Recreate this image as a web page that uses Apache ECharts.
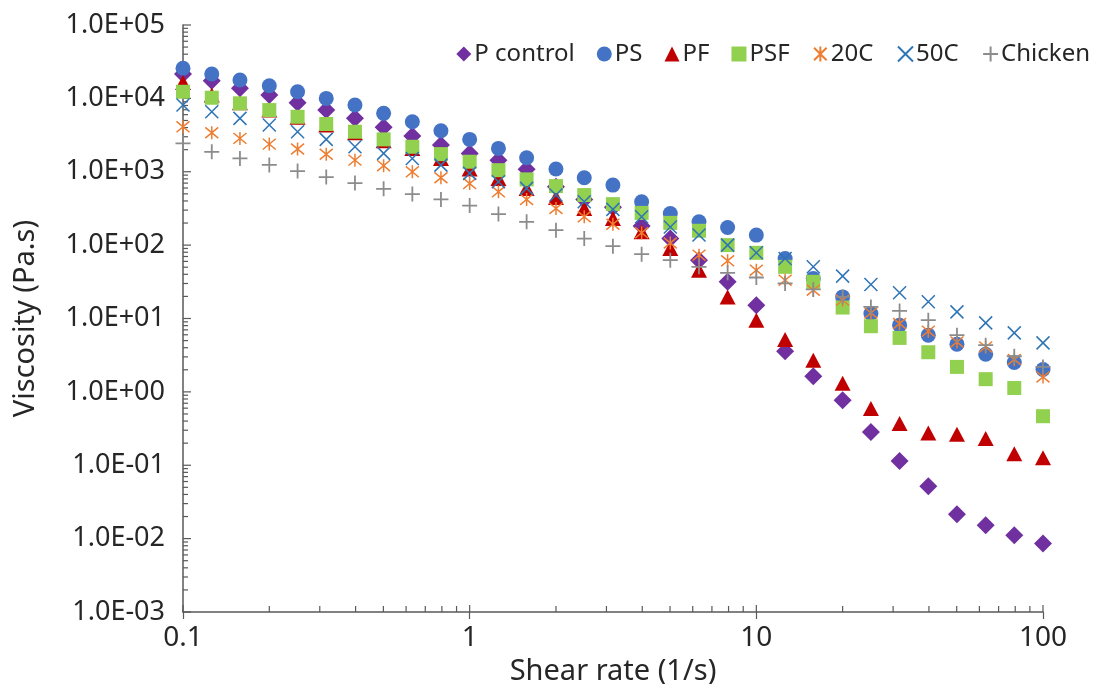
<!DOCTYPE html>
<html><head><meta charset="utf-8">
<script src="https://cdn.jsdelivr.net/npm/echarts@6/dist/echarts.min.js"></script>
<style>html,body{margin:0;padding:0;background:#fff}#c{width:1099px;height:684px}</style>
</head><body><div id="c"></div>
<script>
// Shear rate (1/s)
const shearRate = [0.1, 0.126, 0.158, 0.2, 0.251, 0.316, 0.398, 0.501, 0.631, 0.794,
  1, 1.26, 1.58, 2, 2.51, 3.16, 3.98, 5.01, 6.31, 7.94,
  10, 12.6, 15.8, 20, 25.1, 31.6, 39.8, 50.1, 63.1, 79.4, 100];
// Viscosity (Pa.s)
const pControl = [21480, 17390, 13700, 11100, 8710, 6930, 5340, 4030, 3060, 2310,
  1770, 1440, 1080, 624, 420, 327, 182, 123, 62.4, 31.6,
  15.2, 3.58, 1.63, 0.769, 0.284, 0.114, 0.0517, 0.0215, 0.0152, 0.0111, 0.00855];
const ps = [25690, 21480, 17780, 14870, 12310, 10000, 8110, 6250, 4800, 3620,
  2760, 2080, 1550, 1090, 828, 658, 389, 270, 208, 174,
  137, 65.8, 35.2, 19.7, 11.7, 8.11, 5.93, 4.47, 3.26, 2.51, 2.02];
const pf = [16500, 11100, 8710, 6930, 5510, 4330, 3400, 2640, 2080, 1520,
  1090, 811, 593, 447, 316, 231, 152, 90.2, 45.6, 19.7,
  9.49, 5.18, 2.70, 1.31, 0.593, 0.370, 0.275, 0.264, 0.231, 0.144, 0.127];
const psf = [12310, 10200, 8560, 6930, 5610, 4470, 3510, 2760, 2190, 1740,
  1370, 1050, 787, 637, 481, 362, 275, 201, 157, 100,
  78.5, 50.6, 31.6, 14.1, 7.85, 5.44, 3.47, 2.19, 1.49, 1.13, 0.466];
const c20 = [4100, 3400, 2850, 2380, 2040, 1730, 1440, 1210, 998, 828,
  690, 533, 420, 316, 243, 193, 147, 107, 73.0, 61.1,
  45.6, 33.3, 24.3, 17.8, 11.9, 8.55, 6.71, 4.80, 4.10, 2.76, 1.60];
const c50 = [8110, 6570, 5340, 4330, 3510, 2760, 2190, 1780, 1520, 1230,
  950, 730, 593, 481, 389, 307, 243, 177, 137, 100,
  78.5, 65.8, 50.6, 37.8, 29.1, 22.4, 16.9, 12.3, 8.71, 6.37, 4.65];
const chicken = [2440, 1870, 1520, 1240, 1020, 846, 700, 586, 496, 420,
  346, 265, 208, 160, 123, 96.8, 75.3, 62.4, 50.6, 41.9,
  36.2, 30.1, 24.9, 19.7, 14.4, 12.7, 9.49, 5.93, 4.33, 3.06, 2.19];

const seriesNames = ['P control', 'PS', 'PF', 'PSF', '20C', '50C', 'Chicken'];
const xTickLabels = ['0.1', '1', '10', '100'];
const yTickLabels = ['1.0E-03', '1.0E-02', '1.0E-01', '1.0E+00', '1.0E+01', '1.0E+02', '1.0E+03', '1.0E+04', '1.0E+05'];
const xMinorTicks = [0.2, 0.3, 0.4, 0.5, 0.6, 0.7, 0.8, 0.9, 2, 3, 4, 5, 6, 7, 8, 9, 20, 30, 40, 50, 60, 70, 80, 90];
const minorMult = [2, 3, 4, 5, 6, 7, 8, 9];
const yDecades = [0.001, 0.01, 0.1, 1, 10, 100, 1000, 10000];

const FONT = 'Noto Sans';
const AX = '#595959';
const TXT = '#262626';

const chart = echarts.init(document.getElementById('c'), null, {renderer: 'canvas'});

function pairs(ys) { return shearRate.map((x, i) => [x, ys[i]]); }

const yMinor = [];
yDecades.forEach(d => minorMult.forEach(m => yMinor.push([0.1, +(d * m).toPrecision(3)])));
const yMajor = yDecades.concat([100000]).map(v => [0.1, v]);

const ASTER = 'path://M0,0L10,10M10,0L0,10M5,-1L5,11';
const CROSS = 'path://M0,0L10,10M10,0L0,10';
const PLUS = 'path://M5,0L5,10M0,5L10,5';

const styles = [
  {symbol: 'diamond', size: [18, 18], itemStyle: {color: '#7030A0', opacity: 1}},
  {symbol: 'circle', size: 15, itemStyle: {color: '#4472C4', opacity: 1}},
  {symbol: 'triangle', size: [16, 15], itemStyle: {color: '#C00000', opacity: 1}},
  {symbol: 'rect', size: 14, itemStyle: {color: '#92D050', opacity: 1}},
  {symbol: ASTER, size: 13, itemStyle: {color: 'none', borderColor: '#ED7D31', borderWidth: 1.5, opacity: 1}},
  {symbol: CROSS, size: 13, itemStyle: {color: 'none', borderColor: '#2E75B6', borderWidth: 1.5, opacity: 1}},
  {symbol: PLUS, size: 15, itemStyle: {color: 'none', borderColor: '#8C8C8C', borderWidth: 1.8, opacity: 1}}
];
const dataSets = [pControl, ps, pf, psf, c20, c50, chicken];

const series = dataSets.map((d, i) => ({
  name: seriesNames[i],
  type: 'scatter',
  data: pairs(d),
  symbol: styles[i].symbol,
  symbolSize: styles[i].size,
  itemStyle: styles[i].itemStyle,
  emphasis: {disabled: true},
  z: 3
}));

function tickRenderer(dir, len) {
  return function (params, api) {
    const p = api.coord([api.value(0), api.value(1)]);
    let shape;
    if (dir === 'x') shape = {x1: p[0], y1: p[1], x2: p[0], y2: p[1] - len};
    else shape = {x1: p[0], y1: p[1], x2: p[0] + len, y2: p[1]};
    return {type: 'line', shape: shape, style: {stroke: AX, lineWidth: 1.2}};
  };
}

series.push({
  type: 'custom', name: 'xminor', silent: true, clip: false, z: 1,
  data: xMinorTicks.map(v => [v, 0.001]), renderItem: tickRenderer('x', 6)
});
series.push({
  type: 'custom', name: 'xmajorIn', silent: true, clip: false, z: 1,
  data: [0.1, 1, 10, 100].map(v => [v, 0.001]), renderItem: tickRenderer('x', 7)
});
series.push({
  type: 'custom', name: 'yminor', silent: true, clip: false, z: 1,
  data: yMinor, renderItem: tickRenderer('y', 5)
});
series.push({
  type: 'custom', name: 'ymajor', silent: true, clip: false, z: 1,
  data: yMajor, renderItem: tickRenderer('y', 8)
});

chart.setOption({
  animation: false,
  backgroundColor: '#ffffff',
  grid: {left: 183, right: 56, top: 25, bottom: 72, containLabel: false, outerBoundsMode: 'none'},
  legend: {
    data: seriesNames,
    right: 4, top: 37,
    itemWidth: 15, itemHeight: 15, itemGap: 22,
    textStyle: {fontFamily: FONT, fontSize: 24, color: TXT, padding: [0, 0, 0, -2]},
    selectedMode: false
  },
  xAxis: {
    type: 'log', logBase: 10, min: 0.1, max: 100, interval: 1,
    name: 'Shear rate (1/s)', nameLocation: 'middle', nameGap: 33,
    nameTextStyle: {fontFamily: FONT, fontSize: 29, color: TXT},
    axisLine: {show: true, lineStyle: {color: AX, width: 1.5}},
    axisTick: {show: true, inside: false, length: 7, lineStyle: {color: AX, width: 1.2}},
    minorTick: {show: false},
    splitLine: {show: false},
    axisLabel: {
      fontFamily: FONT, fontSize: 28, color: TXT, margin: 12,
      formatter: v => xTickLabels[Math.round(Math.log10(v)) + 1]
    }
  },
  yAxis: {
    type: 'log', logBase: 10, min: 0.001, max: 100000, interval: 1,
    name: 'Viscosity (Pa.s)', nameLocation: 'middle', nameGap: 143,
    nameTextStyle: {fontFamily: FONT, fontSize: 29, color: TXT},
    axisLine: {show: true, lineStyle: {color: AX, width: 1.5}},
    axisTick: {show: false},
    minorTick: {show: false},
    splitLine: {show: false},
    axisLabel: {
      fontFamily: FONT, fontSize: 27, color: TXT, margin: 18,
      formatter: v => yTickLabels[Math.round(Math.log10(v)) + 3]
    }
  },
  series: series
});
</script></body></html>
